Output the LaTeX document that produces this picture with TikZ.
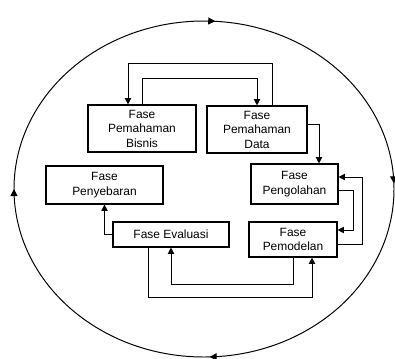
\documentclass[tikz,border=0pt]{standalone}
\usepackage{fontspec}
\setmainfont{Liberation Sans}
\usetikzlibrary{arrows.meta, decorations.markings}

\begin{document}
\begin{tikzpicture}[x=0.025cm, y=-0.025cm,
  fase/.style={draw, line width=0.8pt, align=center, inner sep=0pt,
    font=\fontsize{8.5}{10.3}\selectfont},
  flow/.style={line width=0.7pt, -{Triangle[length=4.5pt, width=4.5pt]}}]
  \useasboundingbox (0,0) rectangle (395,358);

  % outer cycle
  \draw[line width=0.7pt, postaction={decorate}, decoration={markings,
      mark=at position 0.245 with {\arrow{Triangle[length=5pt, width=5pt]}},
      mark=at position 0.5 with {\arrow{Triangle[length=5pt, width=5pt]}},
      mark=at position 0.76 with {\arrow{Triangle[length=5pt, width=5pt]}},
      mark=at position 0.995 with {\arrow{Triangle[length=5pt, width=5pt]}}}]
    (204,189) ellipse [x radius=190, y radius=168];

  % phases
  \node[fase, minimum width=2.7cm, minimum height=1.175cm] (bisnis) at (142,128.5) {Fase\\Pemahaman\\Bisnis};
  \node[fase, minimum width=2.5cm, minimum height=1.175cm] (data) at (257,129.5) {Fase\\Pemahaman\\Data};
  \node[fase, minimum width=2.925cm, minimum height=0.95cm] (penyebaran) at (104.5,185) {Fase\\Penyebaran};
  \node[fase, minimum width=2.175cm, minimum height=1cm] (pengolahan) at (294.5,184) {Fase\\Pengolahan};
  \node[fase, minimum width=2.9cm, minimum height=0.625cm] (evaluasi) at (171,234.5) {Fase Evaluasi};
  \node[fase, minimum width=2.2cm, minimum height=0.875cm] (pemodelan) at (293,239.5) {Fase\\Pemodelan};

  % connectors
  \draw[flow] (data.north -| 272,0) -- (272,63) -| (bisnis.north -| 128,0);
  \draw[flow] (bisnis.north) -- (142,78) -| (data.north);
  \draw[flow] (data.east |- 0,124) -| (pengolahan.north -| 319,0);
  \draw[flow] (pengolahan.east |- 0,190) -| (353,230) -- (pemodelan.east |- 0,230);
  \draw[flow] (pemodelan.east |- 0,244) -| (362,177) -- (pengolahan.east |- 0,177);
  \draw[flow] (pemodelan.south) |- (171,284) -- (evaluasi.south);
  \draw[flow] (evaluasi.south -| 148,0) |- (312,297) -- (pemodelan.south -| 312,0);
  \draw[flow] (evaluasi.west) -| (penyebaran.south);
\end{tikzpicture}
\end{document}
